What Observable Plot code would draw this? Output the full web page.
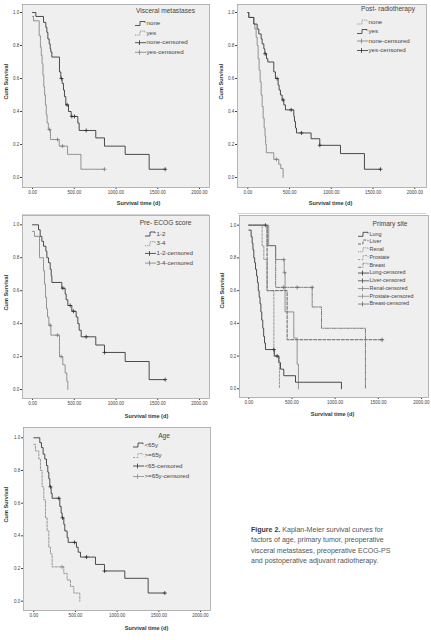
<!DOCTYPE html>
<html>
<head>
<meta charset="utf-8">
<script src="https://cdn.jsdelivr.net/npm/d3@7"></script>
<script src="https://cdn.jsdelivr.net/npm/@observablehq/plot@0.6"></script>
<style>
  body { margin: 0; background: #fff; font-family: "Liberation Sans", Arial, sans-serif; }
  #fig { position: relative; width: 431px; height: 640px; overflow: hidden; background: #fff; }
  .panel { position: absolute; }
  .panel svg { overflow: visible; }
  .rule { position: absolute; height: 1px; background: #d2d2d2; }
  .caption { position: absolute; left: 251px; top: 525px; white-space: nowrap;
             font-size: 7.05px; line-height: 10.4px; color: #555; }
  .caption b { color: #3a3a3a; }
</style>
</head>
<body>
<div id="fig"></div>
<script>
// ---- axis ticks shared by every panel ----
const xTicks = [0, 500, 1000, 1500, 2000];
const yTicks = [0, 0.2, 0.4, 0.6, 0.8, 1.0];

// ---- Visceral metastases ----
const visceralNoneDays = [0, 40, 132, 160, 172, 184, 200, 212, 220, 232, 323, 339, 355, 371, 383, 399, 431, 463, 543, 559, 758, 862, 1110, 1397, 1589];
const visceralNoneSurv = [1.0, 0.976, 0.94, 0.91, 0.88, 0.84, 0.81, 0.78, 0.76, 0.73, 0.64, 0.60, 0.57, 0.53, 0.49, 0.44, 0.40, 0.37, 0.33, 0.285, 0.24, 0.19, 0.14, 0.05, 0.05];
const visceralNoneCensDays = [347, 415, 471, 503, 643, 1589];
const visceralNoneCensSurv = [0.60, 0.44, 0.37, 0.37, 0.285, 0.05];
const visceralYesDays = [0, 12, 80, 95, 105, 115, 125, 135, 145, 155, 165, 175, 190, 215, 320, 420, 580, 862];
const visceralYesSurv = [0.976, 0.95, 0.86, 0.79, 0.74, 0.69, 0.62, 0.55, 0.50, 0.44, 0.38, 0.33, 0.29, 0.23, 0.19, 0.14, 0.05, 0.05];
const visceralYesCensDays = [204, 299, 359, 862];
const visceralYesCensSurv = [0.29, 0.23, 0.19, 0.05];

// ---- Post-operative radiotherapy ----
const radioNoneDays = [0, 12, 72, 84, 100, 112, 124, 136, 148, 160, 172, 184, 196, 206, 214, 222, 311, 371, 395, 423];
const radioNoneSurv = [1.0, 0.97, 0.93, 0.90, 0.85, 0.80, 0.72, 0.65, 0.58, 0.50, 0.43, 0.36, 0.30, 0.25, 0.20, 0.15, 0.11, 0.08, 0.055, 0.0];
const radioNoneCensDays = [343];
const radioNoneCensSurv = [0.11];
const radioYesDays = [0, 12, 72, 112, 132, 160, 172, 192, 204, 224, 240, 311, 331, 363, 375, 391, 411, 431, 451, 551, 559, 571, 583, 758, 862, 1110, 1397, 1589];
const radioYesSurv = [1.0, 0.97, 0.93, 0.90, 0.87, 0.84, 0.81, 0.78, 0.75, 0.72, 0.70, 0.64, 0.60, 0.56, 0.53, 0.50, 0.47, 0.44, 0.41, 0.37, 0.34, 0.30, 0.27, 0.235, 0.195, 0.145, 0.05, 0.05];
const radioYesCensDays = [208, 351, 423, 519, 643, 862, 1589];
const radioYesCensSurv = [0.75, 0.60, 0.47, 0.41, 0.27, 0.195, 0.05];

// ---- Pre-operative ECOG score ----
const ecogLowDays = [0, 72, 92, 112, 132, 160, 172, 192, 212, 224, 232, 351, 391, 403, 423, 471, 523, 543, 559, 583, 758, 862, 1110, 1397, 1589];
const ecogLowSurv = [1.0, 0.97, 0.93, 0.90, 0.87, 0.84, 0.80, 0.77, 0.73, 0.69, 0.65, 0.615, 0.58, 0.545, 0.51, 0.475, 0.44, 0.40, 0.36, 0.32, 0.27, 0.225, 0.17, 0.06, 0.06];
const ecogLowCensDays = [363, 451, 491, 643, 862, 1589];
const ecogLowCensSurv = [0.615, 0.51, 0.475, 0.32, 0.225, 0.06];
const ecogHighDays = [0, 24, 84, 132, 144, 156, 168, 180, 196, 220, 323, 363, 391, 411, 423];
const ecogHighSurv = [0.96, 0.93, 0.80, 0.72, 0.64, 0.56, 0.49, 0.44, 0.39, 0.33, 0.20, 0.15, 0.10, 0.05, 0.0];
const ecogHighCensDays = [212, 299, 343];
const ecogHighCensSurv = [0.39, 0.33, 0.20];

// ---- Primary site ----
const lungDays = [0, 27, 39, 48, 58, 68, 78, 90, 100, 110, 120, 130, 140, 150, 162, 172, 182, 193, 297, 347, 367, 405, 541, 1073];
const lungSurv = [0.97, 0.93, 0.89, 0.85, 0.80, 0.77, 0.73, 0.69, 0.65, 0.60, 0.56, 0.52, 0.47, 0.42, 0.37, 0.32, 0.28, 0.24, 0.20, 0.16, 0.12, 0.08, 0.04, 0.0];
const lungCensDays = [290, 328];
const lungCensSurv = [0.24, 0.20];
const liverDays = [0, 212, 444, 1544];
const liverSurv = [1.0, 0.6, 0.3, 0.3];
const liverCensDays = [193, 1544];
const liverCensSurv = [1.0, 0.3];
const renalDays = [0, 230, 311, 410, 420, 521, 560, 575];
const renalSurv = [1.0, 0.875, 0.79, 0.71, 0.47, 0.31, 0.15, 0.0];
const renalCensDays = [405, 415];
const renalCensSurv = [0.79, 0.71];
const prostateDays = [0, 154, 174, 212, 290, 355];
const prostateSurv = [1.0, 0.875, 0.79, 0.6, 0.2, 0.0];
const prostateCensDays = [];
const prostateCensSurv = [];
const breastDays = [0, 212, 311, 734, 842, 1351];
const breastSurv = [1.0, 0.875, 0.62, 0.5, 0.37, 0.0];
const breastCensDays = [400, 560, 734];
const breastCensSurv = [0.62, 0.62, 0.62];

// ---- Age ----
const youngDays = [0, 72, 92, 112, 132, 152, 168, 180, 192, 208, 220, 312, 328, 340, 360, 372, 400, 412, 512, 532, 560, 740, 848, 1092, 1372, 1572];
const youngSurv = [1.0, 0.97, 0.94, 0.90, 0.87, 0.83, 0.79, 0.75, 0.70, 0.66, 0.63, 0.58, 0.54, 0.51, 0.47, 0.43, 0.39, 0.36, 0.33, 0.30, 0.27, 0.225, 0.185, 0.14, 0.05, 0.05];
const youngCensDays = [200, 300, 345, 488, 632, 848, 1572];
const youngCensSurv = [0.70, 0.63, 0.51, 0.36, 0.27, 0.185, 0.05];
const oldDays = [0, 20, 60, 80, 100, 120, 140, 160, 180, 200, 220, 360, 400, 440, 480, 552];
const oldSurv = [0.96, 0.92, 0.87, 0.80, 0.70, 0.62, 0.51, 0.43, 0.33, 0.29, 0.21, 0.17, 0.13, 0.09, 0.05, 0.0];
const oldCensDays = [340];
const oldCensSurv = [0.21];

// ---- line styles ----
const SOLID = {stroke: "#2e2e2e", dash: null};
const DOTTED = {stroke: "#7c7c7c", dash: "1,0.8"};
const DASH_LIGHT = {stroke: "#8a8a8a", dash: "2.2,1.4"};
const DASH_DARK = {stroke: "#4a4a4a", dash: "3,1.6"};
const DASH_DOT = {stroke: "#6a6a6a", dash: "3.5,1.2,1,1.2"};

const series = (name, days, surv, cDays, cSurv, style) => ({
  name,
  steps: days.map((d, i) => ({day: d, surv: surv[i]})),
  censored: cDays.map((d, i) => ({day: d, surv: cSurv[i]})),
  style
});

// panel geometry in page pixels: origin box, data box, pixel anchors of day 0 / day 2000 / survival 1 / survival 0
const panels = [
  {
    origin: [0, 0, 215, 210], box: [22, 209, 4, 187], anchors: [32, 199, 12, 177],
    title: "Visceral metastases", titleAt: [165.5, 11], legendAt: [135, 23.5, 9.6],
    xLabelAt: [138, 204], yLabelAt: [6, 99],
    series: [
      series("none", visceralNoneDays, visceralNoneSurv, visceralNoneCensDays, visceralNoneCensSurv, SOLID),
      series("yes", visceralYesDays, visceralYesSurv, visceralYesCensDays, visceralYesCensSurv, DOTTED)
    ]
  },
  {
    origin: [215, 0, 216, 210], box: [237, 426, 4, 187], anchors: [247.3, 414.3, 12, 177],
    title: "Post- radiotherapy", titleAt: [388, 9.5], legendAt: [357, 22, 9.5],
    xLabelAt: [330, 204], yLabelAt: [221, 99],
    series: [
      series("none", radioNoneDays, radioNoneSurv, radioNoneCensDays, radioNoneCensSurv, DOTTED),
      series("yes", radioYesDays, radioYesSurv, radioYesCensDays, radioYesCensSurv, SOLID)
    ]
  },
  {
    origin: [0, 210, 215, 210], box: [22, 209, 215, 398], anchors: [32, 199, 224.3, 389],
    title: "Pre- ECOG score", titleAt: [165.5, 223.5], legendAt: [145, 234, 9.7],
    xLabelAt: [146, 417], yLabelAt: [6, 310],
    series: [
      series("1-2", ecogLowDays, ecogLowSurv, ecogLowCensDays, ecogLowCensSurv, SOLID),
      series("3-4", ecogHighDays, ecogHighSurv, ecogHighCensDays, ecogHighCensSurv, DOTTED)
    ]
  },
  {
    origin: [215, 210, 216, 210], box: [239, 428, 215, 397], anchors: [248.3, 421, 224.7, 388.3],
    title: "Primary site", titleAt: [390, 224.5], legendAt: [358, 234.3, 7.75],
    xLabelAt: [332, 415], yLabelAt: [222, 308],
    series: [
      series("Lung", lungDays, lungSurv, lungCensDays, lungCensSurv, SOLID),
      series("Liver", liverDays, liverSurv, liverCensDays, liverCensSurv, DASH_DARK),
      series("Renal", renalDays, renalSurv, renalCensDays, renalCensSurv, DOTTED),
      series("Prostate", prostateDays, prostateSurv, prostateCensDays, prostateCensSurv, DASH_LIGHT),
      series("Breast", breastDays, breastSurv, breastCensDays, breastCensSurv, DASH_DOT)
    ]
  },
  {
    origin: [0, 420, 215, 220], box: [23, 210, 427, 610], anchors: [33.3, 200, 437.3, 600.7],
    title: "Age", titleAt: [164, 436.5], legendAt: [133, 445, 10.5],
    xLabelAt: [146, 629], yLabelAt: [6, 522],
    censorNames: ["<65-censored", ">=65y-censored"],
    series: [
      series("<65y", youngDays, youngSurv, youngCensDays, youngCensSurv, SOLID),
      series(">=65y", oldDays, oldSurv, oldCensDays, oldCensSurv, DASH_LIGHT)
    ]
  }
];

// "+" marker for censored observations
const censorMark = {
  draw(context, size) {
    const r = Math.sqrt(size / Math.PI);
    context.moveTo(0, -r); context.lineTo(0, r);
    context.moveTo(-r, 0); context.lineTo(r, 0);
  }
};

const FONT = "'Liberation Sans', Arial, sans-serif";
const fig = document.getElementById("fig");

for (const p of panels) {
  const [ox, oy, w, h] = p.origin;
  const [bx0, bx1, by0, by1] = p.box;
  const [px0, px2000, py1, py0] = p.anchors;
  const dayAt = px => (px - px0) / (px2000 - px0) * 2000;
  const survAt = py => (py0 - py) / (py0 - py1);

  const marks = [Plot.frame({fill: "#efefef", stroke: "#a4a4a4", strokeWidth: 0.8})];
  for (const s of p.series) {
    marks.push(Plot.line(s.steps, {
      x: "day", y: "surv", curve: "step-after",
      stroke: s.style.stroke, strokeDasharray: s.style.dash, strokeWidth: 0.85
    }));
  }
  for (const s of p.series) {
    marks.push(Plot.dot(s.censored, {
      x: "day", y: "surv", symbol: censorMark, r: 2, fill: "none",
      stroke: s.style.stroke, strokeWidth: 0.8
    }));
  }
  marks.push(Plot.text(["Survival time (d)"], {
    text: d => d, frameAnchor: "bottom",
    dx: p.xLabelAt[0] - (bx0 + bx1) / 2, dy: p.xLabelAt[1] - by1,
    fontWeight: "bold", fontSize: 5.6, fill: "#333"
  }));
  marks.push(Plot.text(["Cum Survival"], {
    text: d => d, frameAnchor: "left", rotate: -90,
    dx: p.yLabelAt[0] - bx0, dy: p.yLabelAt[1] - (by0 + by1) / 2,
    fontWeight: "bold", fontSize: 5.6, fill: "#333"
  }));

  const svg = Plot.plot({
    width: w, height: h,
    marginLeft: bx0 - ox, marginRight: ox + w - bx1,
    marginTop: by0 - oy, marginBottom: oy + h - by1,
    style: {background: "transparent", fontFamily: FONT, fontSize: "4.5px", color: "#444"},
    x: {domain: [dayAt(bx0), dayAt(bx1)], ticks: xTicks, tickFormat: d => d.toFixed(2),
        tickSize: 2, tickPadding: 1.2, label: null},
    y: {domain: [survAt(by1), survAt(by0)], ticks: yTicks, tickFormat: d => d.toFixed(1),
        tickSize: 2, tickPadding: 1.2, label: null},
    marks
  });

  // legend inside the plotting area
  const g = d3.select(svg).append("g")
    .attr("font-family", FONT).attr("fill", "#444");
  g.append("text")
    .attr("x", p.titleAt[0] - ox).attr("y", p.titleAt[1] - oy)
    .attr("text-anchor", "middle").attr("dominant-baseline", "middle")
    .attr("font-size", 6.6).text(p.title);
  const [lx, ly, step] = p.legendAt;
  const x = lx - ox;
  const rows = [];
  p.series.forEach(s => rows.push({kind: "line", label: s.name, style: s.style}));
  p.series.forEach((s, i) => rows.push({
    kind: "censor",
    label: p.censorNames ? p.censorNames[i] : s.name + "-censored",
    style: s.style
  }));
  rows.forEach((r, i) => {
    const y = ly - oy + i * step;
    if (r.kind === "line") {
      g.append("path")
        .attr("d", `M${x},${y + 2}H${x + 5}V${y - 2}H${x + 10}V${y - 0.8}`)
        .attr("fill", "none").attr("stroke", r.style.stroke)
        .attr("stroke-width", 0.8).attr("stroke-dasharray", r.style.dash);
    } else {
      g.append("path")
        .attr("d", `M${x},${y}H${x + 11}M${x + 4.5},${y - 2.4}V${y + 2.4}`)
        .attr("fill", "none").attr("stroke", r.style.stroke).attr("stroke-width", 0.8);
    }
    g.append("text")
      .attr("x", x + 11.5).attr("y", y)
      .attr("text-anchor", "start")
      .attr("dominant-baseline", "middle")
      .attr("font-size", p.series.length > 2 ? 5.4 : 6.2)
      .text(r.label);
  });

  const div = document.createElement("div");
  div.className = "panel";
  div.style.left = ox + "px";
  div.style.top = oy + "px";
  div.appendChild(svg);
  fig.appendChild(div);
}

// thin separators under the top row
for (const [l, t, w] of [[22, 214, 187], [238, 213, 188]]) {
  const r = document.createElement("div");
  r.className = "rule";
  r.style.left = l + "px"; r.style.top = t + "px"; r.style.width = w + "px";
  fig.appendChild(r);
}

const cap = document.createElement("div");
cap.className = "caption";
cap.innerHTML = "<b>Figure 2.</b> Kaplan-Meier survival curves for<br>" +
  "factors of age, primary tumor, preoperative<br>" +
  "visceral metastases, preoperative ECOG-PS<br>" +
  "and postoperative adjuvant radiotherapy.";
fig.appendChild(cap);
</script>
</body>
</html>
